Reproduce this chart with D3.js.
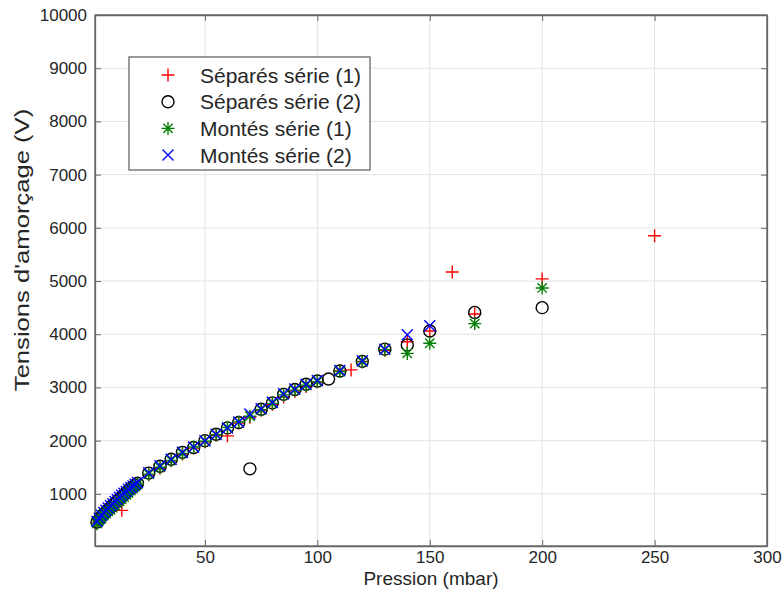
<!DOCTYPE html>
<html>
<head>
<meta charset="utf-8">
<script src="https://cdn.jsdelivr.net/npm/d3@7"></script>
<style>
html,body{margin:0;padding:0;background:#fff;}
svg text{font-family:"Liberation Sans", Arial, Helvetica, sans-serif;}
</style>
</head>
<body>
<svg id="chart" width="784" height="597"></svg>
<script>
// ---- data ----
const seriesNames = ["Séparés série (1)", "Séparés série (2)", "Montés série (1)", "Montés série (2)"];

const sep1P = [2,3,4,5,6,7,8,9,10,11,12,13,14,15,16,17,18,19,20,25,30,35,40,45,50,55,60,65,70,75,80,85,90,95,100,110,115,120,130,140,150,160,170,200,250];
const sep1V = [450,490,540,590,630,670,710,750,780,820,870,690,950,990,1030,1070,1100,1130,1160,1360,1480,1620,1750,1860,1980,2100,2090,2330,2440,2570,2680,2820,2930,3020,3100,3310,3330,3490,3700,3860,4060,5170,4380,5040,5850];

const sep2P = [2,3,4,5,6,7,8,9,10,11,12,13,14,15,16,17,18,19,20,25,30,35,40,45,50,55,60,65,70,75,80,85,90,95,100,105,110,120,130,140,150,170,200];
const sep2V = [470,520,575,620,665,705,745,785,825,865,905,945,985,1025,1065,1100,1135,1165,1200,1390,1520,1650,1780,1870,2000,2120,2240,2340,1470,2590,2710,2870,2960,3060,3120,3160,3310,3490,3720,3800,4060,4410,4500];

const mon1P = [2,3,4,5,6,7,8,9,10,11,12,13,14,15,16,17,18,19,20,25,30,35,40,45,50,55,60,65,70,75,80,85,90,95,100,110,120,130,140,150,170,200];
const mon1V = [440,500,540,590,630,670,700,740,780,820,860,900,940,980,1020,1060,1100,1140,1180,1370,1500,1630,1760,1880,1990,2110,2250,2350,2460,2580,2700,2860,2950,3040,3110,3300,3480,3710,3640,3830,4200,4870];

const mon2P = [2,3,4,5,6,7,8,9,10,11,12,13,14,15,16,17,18,19,20,25,30,35,40,45,50,55,60,65,70,75,80,85,90,95,100,110,120,130,140,150];
const mon2V = [480,540,600,650,690,735,775,815,855,895,935,975,1010,1045,1085,1120,1150,1180,1215,1395,1530,1650,1780,1880,2000,2120,2240,2350,2500,2600,2720,2880,2970,3060,3130,3320,3500,3720,3990,4160];

const xTicks = [50,100,150,200,250,300];
const yTicks = [1000,2000,3000,4000,5000,6000,7000,8000,9000,10000];

// ---- layout ----
const svg = d3.select("#chart");
const L = 95, R = 767, T = 15, B = 546;
const x = d3.scaleLinear().domain([1.1, 300]).range([L, R]);
const y = d3.scaleLinear().domain([20, 10000]).range([B, T]);

const textCol = "#262626", axisCol = "#666666", gridCol = "#e3e3e3";

// grid
svg.append("g").selectAll("line").data(xTicks).join("line")
  .attr("x1", d => x(d)).attr("x2", d => x(d)).attr("y1", T).attr("y2", B)
  .attr("stroke", gridCol).attr("stroke-width", 1);
svg.append("g").selectAll("line").data(yTicks).join("line")
  .attr("x1", L).attr("x2", R).attr("y1", d => y(d)).attr("y2", d => y(d))
  .attr("stroke", gridCol).attr("stroke-width", 1);

// axes (inward ticks)
const xAxis = svg.append("g").attr("transform", `translate(0,${B})`)
  .call(d3.axisBottom(x).tickValues(xTicks).tickSizeInner(-6).tickSizeOuter(0).tickPadding(5));
const yAxis = svg.append("g").attr("transform", `translate(${L},0)`)
  .call(d3.axisLeft(y).tickValues(yTicks).tickFormat(d3.format("d")).tickSizeInner(-6).tickSizeOuter(0).tickPadding(8));
const xTop = svg.append("g").attr("transform", `translate(0,${T})`)
  .call(d3.axisTop(x).tickValues(xTicks).tickSizeInner(-6).tickSizeOuter(0).tickFormat(""));
const yRight = svg.append("g").attr("transform", `translate(${R},0)`)
  .call(d3.axisRight(y).tickValues(yTicks).tickSizeInner(-6).tickSizeOuter(0).tickFormat(""));
[xAxis, yAxis, xTop, yRight].forEach(g => {
  g.select(".domain").attr("stroke", axisCol).attr("stroke-width", 1.3);
  g.selectAll(".tick line").attr("stroke", axisCol).attr("stroke-width", 1);
  g.selectAll(".tick text").attr("fill", textCol).style("font-size", "17px");
});
// box
svg.append("rect").attr("x", L).attr("y", T).attr("width", R - L).attr("height", B - T)
  .attr("fill", "none").attr("stroke", axisCol).attr("stroke-width", 1.3);

// axis labels
svg.append("text").attr("x", (L + R) / 2).attr("y", 585).attr("text-anchor", "middle")
  .attr("fill", textCol).style("font-size", "19px").text("Pression (mbar)");
svg.append("text").attr("transform", `translate(29,250) rotate(-90) scale(1.28,1)`).attr("text-anchor", "middle")
  .attr("fill", textCol).style("font-size", "20px").text("Tensions d'amorçage (V)");

// ---- markers ----
function drawMarker(g, type, color) {
  const s = 6.5;
  if (type === "plus") {
    g.append("path").attr("d", `M${-s},0H${s}M0,${-s}V${s}`).attr("stroke", color).attr("stroke-width", 1.4).attr("fill", "none");
  } else if (type === "circle") {
    g.append("circle").attr("r", 6).attr("stroke", color).attr("stroke-width", 1.4).attr("fill", "none");
  } else if (type === "star") {
    const d = s * 0.72;
    g.append("path").attr("d", `M${-s},0H${s}M0,${-s}V${s}M${-d},${-d}L${d},${d}M${-d},${d}L${d},${-d}`)
      .attr("stroke", color).attr("stroke-width", 1.4).attr("fill", "none");
  } else if (type === "x") {
    const d = 5.5;
    g.append("path").attr("d", `M${-d},${-d}L${d},${d}M${-d},${d}L${d},${-d}`)
      .attr("stroke", color).attr("stroke-width", 1.4).attr("fill", "none");
  }
}

const series = [
  {name: seriesNames[0], P: sep1P, V: sep1V, type: "plus", color: "#ff0000"},
  {name: seriesNames[1], P: sep2P, V: sep2V, type: "circle", color: "#000000"},
  {name: seriesNames[2], P: mon1P, V: mon1V, type: "star", color: "#008000"},
  {name: seriesNames[3], P: mon2P, V: mon2V, type: "x", color: "#0000ff"}
];

series.forEach(s => {
  const g = svg.append("g");
  s.P.forEach((p, i) => {
    const m = g.append("g").attr("transform", `translate(${x(p)},${y(s.V[i])})`);
    drawMarker(m, s.type, s.color);
  });
});

// ---- legend ----
const lg = svg.append("g").attr("transform", "translate(129,57)");
lg.append("rect").attr("width", 241).attr("height", 113).attr("fill", "#fff")
  .attr("stroke", "#666").attr("stroke-width", 1.3);
series.forEach((s, i) => {
  const yy = 18 + i * 26.7;
  const m = lg.append("g").attr("transform", `translate(39,${yy})`);
  drawMarker(m, s.type, s.color);
  lg.append("text").attr("x", 71).attr("y", yy + 7.5).attr("fill", textCol)
    .style("font-size", "21px").text(s.name);
});
</script>
</body>
</html>
